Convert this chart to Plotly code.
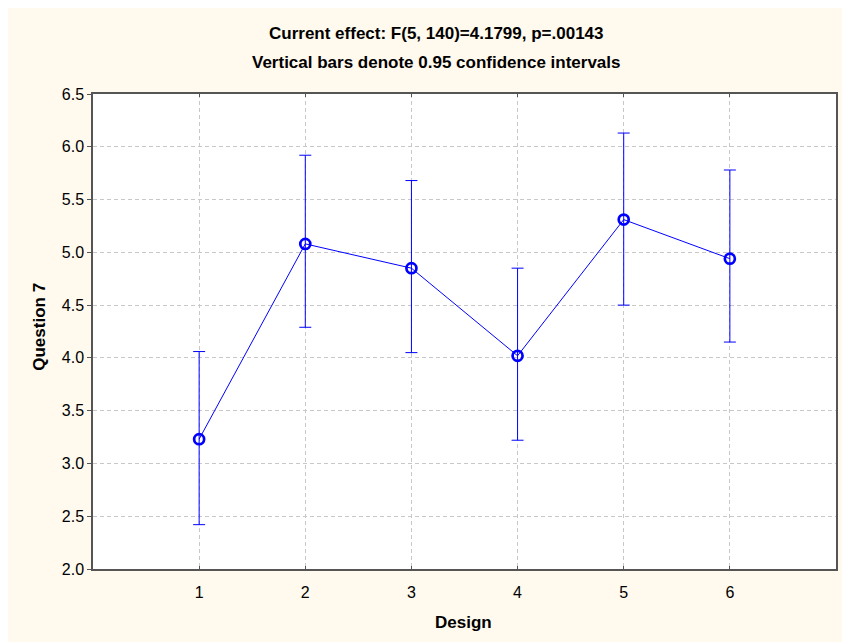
import plotly.graph_objects as go

designs = [1, 2, 3, 4, 5, 6]
means = [3.23, 5.08, 4.85, 4.02, 5.31, 4.94]
ci_upper = [4.06, 5.92, 5.68, 4.85, 6.13, 5.78]
ci_lower = [2.42, 4.29, 4.05, 3.22, 4.50, 4.15]
y_ticks = [2.0, 2.5, 3.0, 3.5, 4.0, 4.5, 5.0, 5.5, 6.0, 6.5]

title_1 = "Current effect: F(5, 140)=4.1799, p=.00143"
title_2 = "Vertical bars denote 0.95 confidence intervals"
x_title = "Design"
y_title = "Question 7"

err_plus = [u - m for u, m in zip(ci_upper, means)]
err_minus = [m - l for m, l in zip(means, ci_lower)]

BLUE = "#0000FF"
FONT = "Liberation Sans, Arial, sans-serif"
GRID = "#C8C8C8"
AXIS = "#555555"

fig = go.Figure()
fig.add_trace(go.Scatter(
    x=designs, y=means, mode="lines+markers",
    line=dict(color=BLUE, width=1),
    marker=dict(symbol="circle-open", size=10, color=BLUE, line=dict(width=2.7, color=BLUE)),
    error_y=dict(type="data", symmetric=False, array=err_plus, arrayminus=err_minus,
                 color=BLUE, thickness=1, width=6),
    showlegend=False,
))

fig.update_layout(
    width=850, height=642,
    paper_bgcolor="#FFF9EE", plot_bgcolor="#FFFFFF",
    margin=dict(l=85, r=22, t=86, b=81, autoexpand=False),
    font=dict(family=FONT, size=16, color="#000000"),
    annotations=[
        dict(text=f"<b>{title_1}</b>", xref="paper", yref="paper",
             x=0.4617, y=1, yshift=61, showarrow=False, font=dict(size=17, family=FONT),
             xanchor="center", yanchor="middle"),
        dict(text=f"<b>{title_2}</b>", xref="paper", yref="paper",
             x=0.4617, y=1, yshift=32, showarrow=False, font=dict(size=17, family=FONT),
             xanchor="center", yanchor="middle"),
        dict(text=f"<b>{x_title}</b>", xref="paper", yref="paper",
             x=0.498, y=0, yshift=-53, showarrow=False, font=dict(size=17, family=FONT),
             xanchor="center", yanchor="middle"),
        dict(text=f"<b>{y_title}</b>", xref="paper", yref="paper", textangle=-90,
             x=0, y=0.51, xshift=-53, showarrow=False, font=dict(size=17, family=FONT),
             xanchor="center", yanchor="middle"),
    ],
)

fig.update_xaxes(
    range=[0, 7], tickvals=designs, ticktext=[str(d) for d in designs],
    showgrid=True, gridcolor=GRID, griddash="4px,3px", gridwidth=1,
    showline=True, linecolor=AXIS, linewidth=1.5, mirror="ticks",
    ticks="inside", ticklen=3, tickcolor=AXIS, zeroline=False, automargin=False,
    ticklabelstandoff=8,
    tickfont=dict(size=16, family=FONT),
)
fig.update_yaxes(
    range=[2.0, 6.5], tickvals=y_ticks, ticktext=[f"{v:.1f}" for v in y_ticks],
    showgrid=True, gridcolor=GRID, griddash="4px,3px", gridwidth=1,
    showline=True, linecolor=AXIS, linewidth=1.5, mirror=True,
    ticks="outside", ticklen=4, tickcolor=AXIS, zeroline=False, automargin=False,
    tickfont=dict(size=16, family=FONT),
)

fig.write_html("out.html")
